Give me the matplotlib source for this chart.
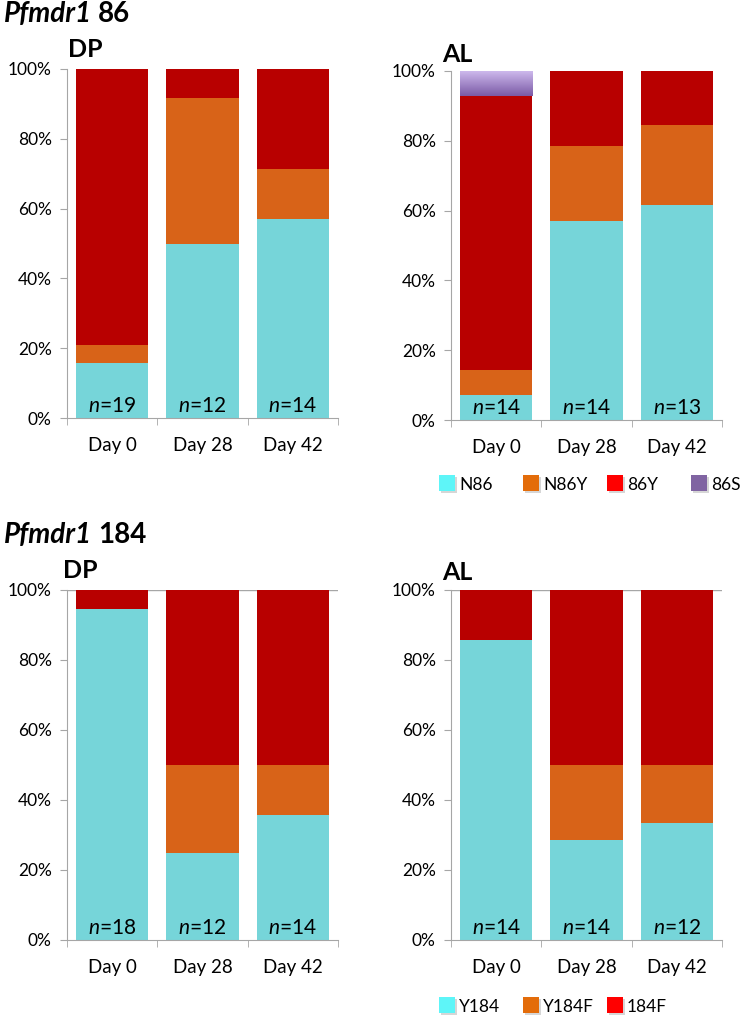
import numpy as np
import matplotlib
matplotlib.use("Agg")
import matplotlib.pyplot as plt
from matplotlib.patches import Rectangle
from matplotlib.colors import LinearSegmentedColormap
from matplotlib.ticker import PercentFormatter

plt.rcParams['font.family'] = ['Lato', 'DejaVu Sans']
plt.rcParams['mathtext.fontset'] = 'custom'
plt.rcParams['mathtext.it'] = 'Lato:italic'
plt.rcParams['mathtext.rm'] = 'Lato'

# data: counts per genotype, per time point
days = ['Day 0', 'Day 28', 'Day 42']

dp86_n = [19, 12, 14]
dp86_N86 = [3, 6, 8]
dp86_N86Y = [1, 5, 2]
dp86_86Y = [15, 1, 4]

al86_n = [14, 14, 13]
al86_N86 = [1, 8, 8]
al86_N86Y = [1, 3, 3]
al86_86Y = [11, 3, 2]
al86_86S = [1, 0, 0]

dp184_n = [18, 12, 14]
dp184_Y184 = [17, 3, 5]
dp184_Y184F = [0, 3, 2]
dp184_184F = [1, 6, 7]

al184_n = [14, 14, 12]
al184_Y184 = [12, 4, 4]
al184_Y184F = [0, 3, 2]
al184_184F = [2, 7, 6]

legend86 = ['N86', 'N86Y', '86Y', '86S']
legend184 = ['Y184', 'Y184F', '184F']

# colours
CYAN, ORANGE, RED, PURPLE = '#76D5D9', '#D86318', '#B80000', '#8C6FB4'
LEG_COLORS = ['#5EF5F8', '#E36C0A', '#FF0000', '#8064A2']
GREY = '#A6A6A6'

W, H = 742, 1023
fig = plt.figure(figsize=(W / 100, H / 100), dpi=100)


def fx(px):
    return px / W


def fy(py):
    return 1 - py / H


def add_ax(left, top, right, bottom):
    return fig.add_axes([fx(left), fy(bottom), fx(right) - fx(left), fy(top) - fy(bottom)])


def stacked(ax, n, series, colors, gridtop=False):
    x = np.arange(len(days))
    n = np.array(n, dtype=float)
    base = np.zeros(len(days))
    bars_all = []
    for vals, c in zip(series, colors):
        frac = np.array(vals) / n
        bars = ax.bar(x, frac, bottom=base, width=0.8, color=c, zorder=2)
        bars_all.append((bars, frac, base.copy()))
        base += frac
    for i, nn in enumerate(n):
        ax.text(x[i], 0.016, r'$\mathit{n}$=%d' % nn, ha='center', va='baseline',
                fontsize=15, zorder=5)
    ax.set_xlim(-0.5, len(days) - 0.5)
    ax.set_ylim(0, 1)
    ax.set_yticks(np.arange(0, 1.01, 0.2))
    ax.yaxis.set_major_formatter(PercentFormatter(1.0, decimals=0))
    ax.set_xticks(x)
    ax.set_xticklabels(days, fontsize=13.5)
    ax.set_xticks(np.arange(-0.5, len(days), 1), minor=True)
    ax.tick_params(axis='x', which='major', length=0, pad=14)
    ax.tick_params(axis='x', which='minor', length=5, color=GREY, direction='out')
    ax.tick_params(axis='y', length=5, color=GREY, labelsize=12.5, pad=6)
    for s in ['top', 'right']:
        ax.spines[s].set_visible(False)
    for s in ['left', 'bottom']:
        ax.spines[s].set_color(GREY)
    if gridtop:
        ax.axhline(1.0, color=GREY, lw=1, zorder=1)
    return bars_all


def legend(items, colors, y):
    for k, (lab, c) in enumerate(zip(items, colors)):
        x0 = 439 + 84 * k
        sz = 16
        fig.add_artist(Rectangle((fx(x0 + 2), fy(y + sz / 2 + 2)), fx(sz), fy(0) - fy(sz),
                                 transform=fig.transFigure, facecolor='#BBBBBB',
                                 edgecolor='none', alpha=0.6))
        fig.add_artist(Rectangle((fx(x0), fy(y + sz / 2)), fx(sz), fy(0) - fy(sz),
                                 transform=fig.transFigure, facecolor=c, edgecolor='none'))
        fig.text(fx(x0 + 20), fy(y), lab, fontsize=12.5, va='center_baseline', ha='left')


def header(label, py):
    r = fig.canvas.get_renderer()
    t = fig.text(fx(4), fy(py), 'Pfmdr1', fontsize=20, fontweight='bold',
                 fontstyle='italic', va='baseline')
    bb = t.get_window_extent(renderer=r)
    fig.text(bb.x1 / W + fx(6), fy(py), label, fontsize=20, fontweight='bold', va='baseline')


# top-left: DP 86
ax1 = add_ax(67, 69, 338, 418)
stacked(ax1, dp86_n, [dp86_N86, dp86_N86Y, dp86_86Y], [CYAN, ORANGE, RED])

# top-right: AL 86
ax2 = add_ax(451, 71, 722, 420)
bars = stacked(ax2, al86_n, [al86_N86, al86_N86Y, al86_86Y, al86_86S],
               [CYAN, ORANGE, RED, PURPLE])
# gradient fill on the 86S segment
cmap = LinearSegmentedColormap.from_list('pur', ['#7A5AA6', '#CDB8EC'])
grad = np.linspace(0, 1, 64).reshape(-1, 1)
for rect in bars[3][0]:
    if rect.get_height() > 0:
        x0, y0 = rect.get_x(), rect.get_y()
        im = ax2.imshow(grad, extent=(x0, x0 + rect.get_width(), y0, y0 + rect.get_height()),
                        origin='lower', aspect='auto', cmap=cmap, zorder=3)
        im.set_clip_path(rect)
ax2.set_xlim(-0.5, 2.5)
ax2.set_ylim(0, 1)
ax2.set_aspect('auto')

# bottom-left: DP 184
ax3 = add_ax(67, 590, 338, 940)
stacked(ax3, dp184_n, [dp184_Y184, dp184_Y184F, dp184_184F], [CYAN, ORANGE, RED], gridtop=True)

# bottom-right: AL 184
ax4 = add_ax(451, 590, 722, 940)
stacked(ax4, al184_n, [al184_Y184, al184_Y184F, al184_184F], [CYAN, ORANGE, RED], gridtop=True)

# titles
fig.text(fx(68), fy(57), 'DP', fontsize=18, fontweight='bold', va='baseline')
fig.text(fx(442), fy(62), 'AL', fontsize=18, fontweight='bold', va='baseline')
fig.text(fx(63), fy(578), 'DP', fontsize=18, fontweight='bold', va='baseline')
fig.text(fx(442), fy(580), 'AL', fontsize=18, fontweight='bold', va='baseline')
header('86', 22)
header('184', 543)

legend(legend86, LEG_COLORS, 483)
legend(legend184, LEG_COLORS[:3], 1005)

fig.savefig('out.png', dpi=100)
